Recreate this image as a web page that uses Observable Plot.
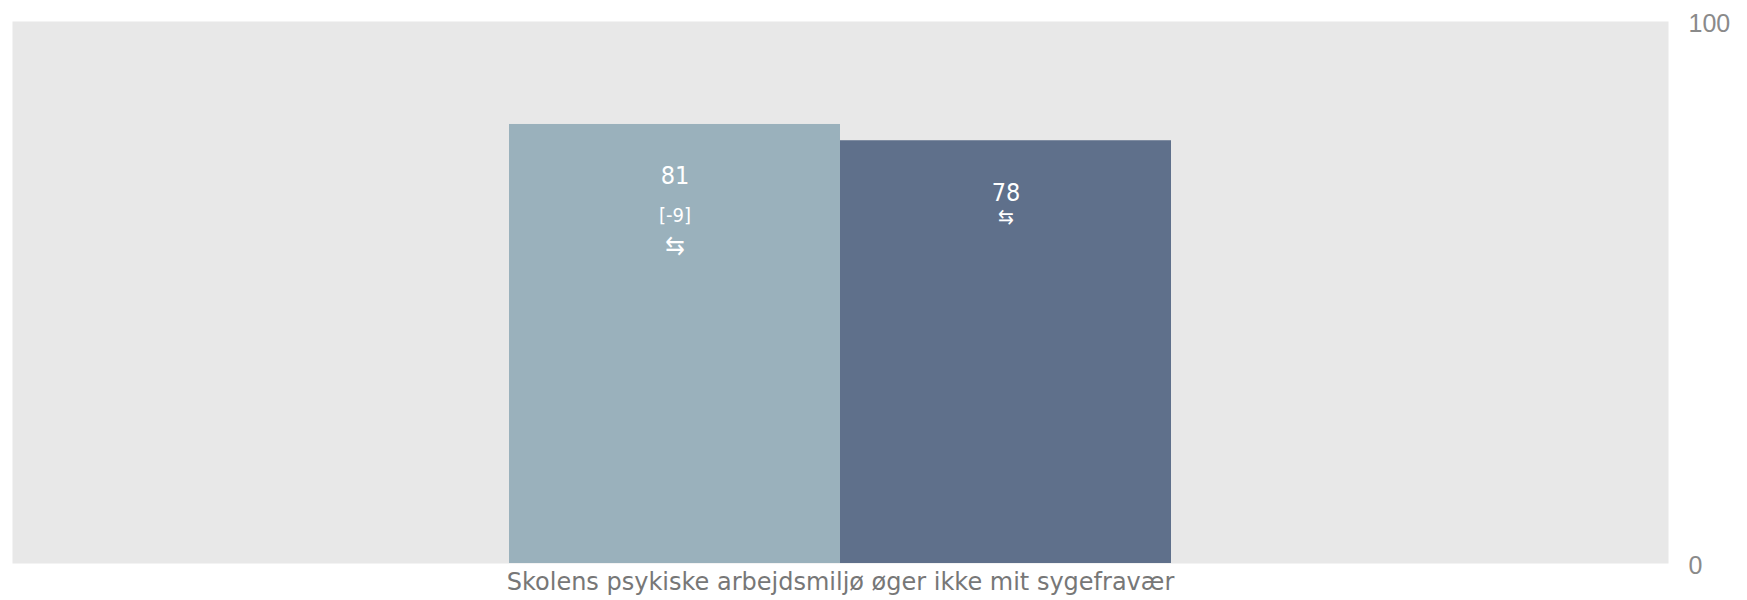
<!DOCTYPE html>
<html>
<head>
<meta charset="utf-8">
<script src="https://cdn.jsdelivr.net/npm/d3@7"></script>
<script src="https://cdn.jsdelivr.net/npm/@observablehq/plot@0.6"></script>
<style>
  html, body { margin: 0; padding: 0; background: #ffffff; }
  #chart svg { display: block; }
</style>
</head>
<body>
<div id="chart"></div>
<script>
const categories = ["Skolens psykiske arbejdsmiljø øger ikke mit sygefravær"];
const series = ["Skolen", "Landsplan"];
const values = [81, 78];
const changes = ["[-9]", ""];
const arrows = ["⇆", "⇆"];
const seriesColors = ["#9ab1bc", "#5f708b"];
const yTicks = [0, 100];

const data = series.map((s, i) => ({
  category: categories[0],
  series: s,
  value: values[i],
  change: changes[i],
  arrow: arrows[i]
}));

const condFont = "'DejaVu Sans Condensed', 'DejaVu Sans', sans-serif";
const catFont = "'DejaVu Sans', sans-serif";

const chart = Plot.plot({
  width: 1747,
  height: 600,
  marginLeft: 12,
  marginRight: 79,
  marginTop: 21,
  marginBottom: 37,
  style: { background: "#ffffff", fontFamily: catFont },
  fx: { domain: categories, padding: 0, label: null },
  x: { domain: series, paddingInner: 0, paddingOuter: 1.5, axis: null },
  y: { domain: [0, 100], axis: null },
  color: { domain: series, range: seriesColors },
  marks: [
    Plot.frame({ fill: "#e8e8e8", stroke: null }),
    Plot.barY(data, { fx: "category", x: "series", y: "value", fill: "series", inset: 0 }),
    Plot.text(data, { fx: "category", x: "series", y: "value", text: d => String(d.value), dy: 52, fill: "white", fontSize: 25, fontFamily: condFont }),
    Plot.text(data.filter(d => d.change), { fx: "category", x: "series", y: "value", text: "change", dy: 91, fill: "white", fontSize: 20, fontFamily: condFont }),
    Plot.text(data.filter(d => d.change), { fx: "category", x: "series", y: "value", text: "arrow", dy: 121, fill: "white", fontSize: 26, fontFamily: condFont }),
    Plot.text(data.filter(d => !d.change), { fx: "category", x: "series", y: "value", text: "arrow", dy: 77, fill: "white", fontSize: 21, fontFamily: condFont }),
    Plot.axisFx({ anchor: "bottom", tickSize: 0, tickPadding: 9, label: null, fontSize: 24, fontFamily: catFont, color: "#777777" }),
    Plot.axisY({ anchor: "right", ticks: yTicks, tickSize: 0, tickPadding: 20, dy: 2, label: null, fontSize: 25, fontFamily: "'Liberation Sans', Arial, sans-serif", color: "#8a8a8a" })
  ]
});

document.getElementById("chart").appendChild(chart);
</script>
</body>
</html>
